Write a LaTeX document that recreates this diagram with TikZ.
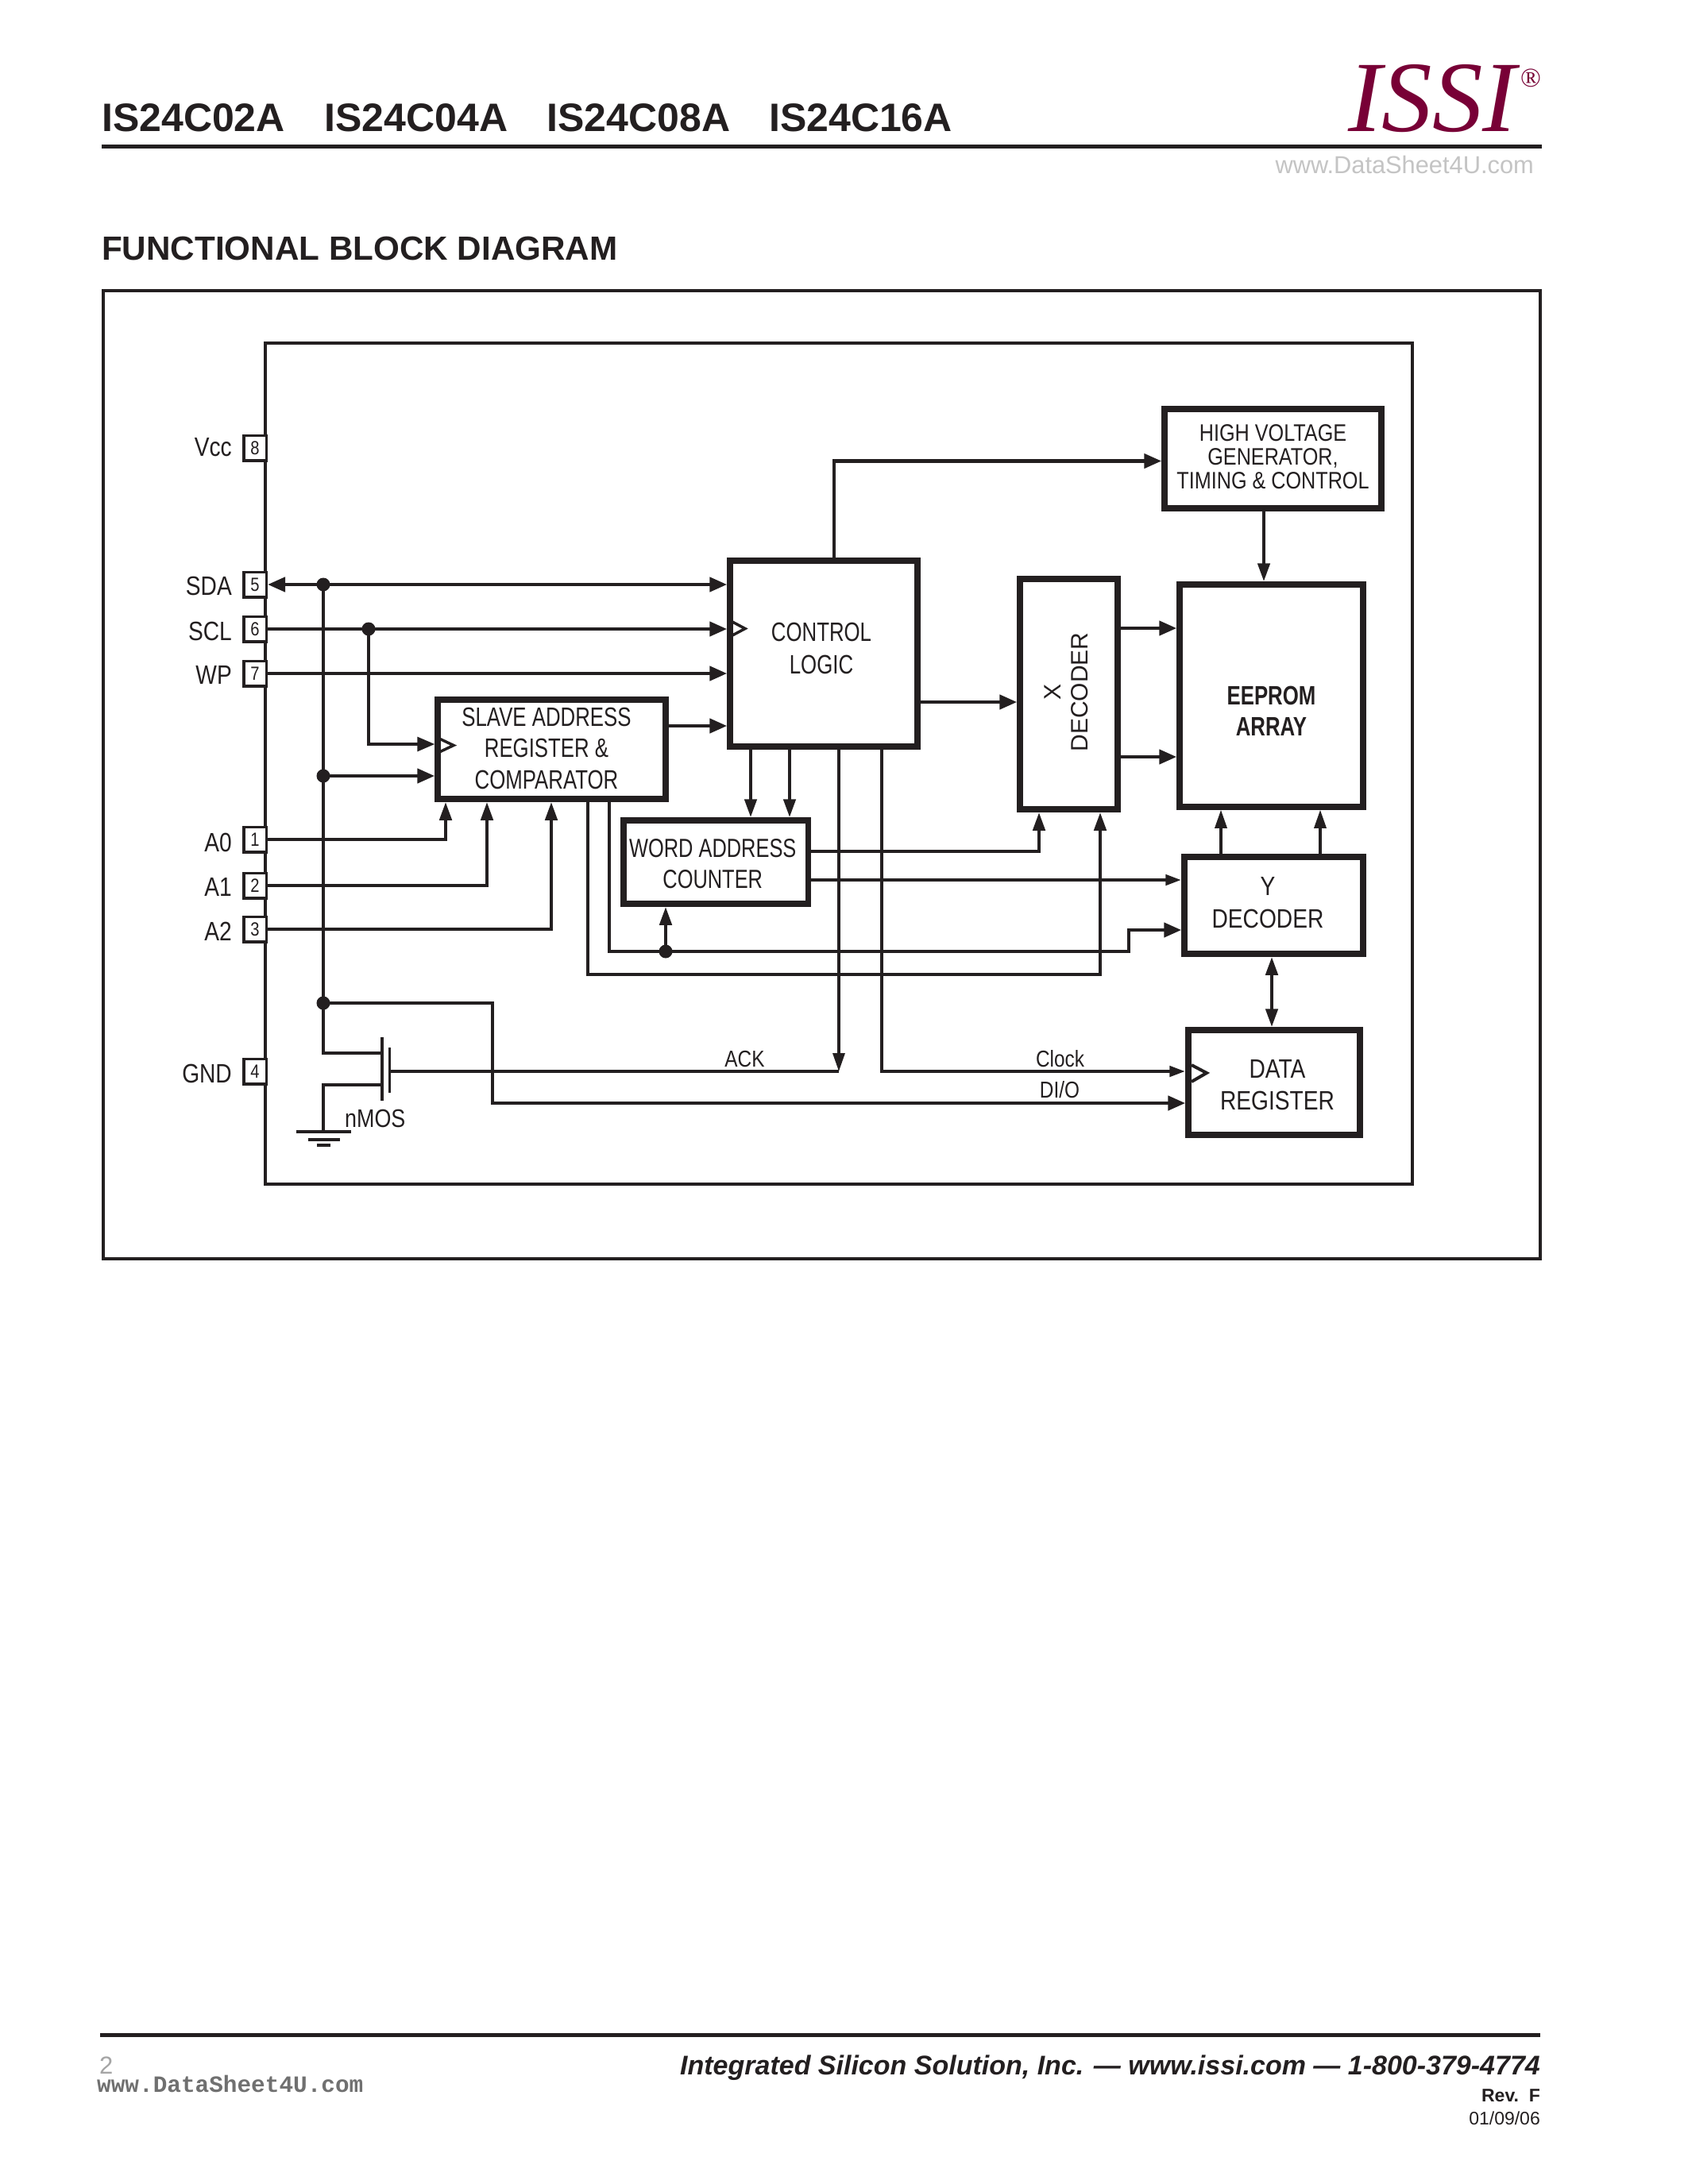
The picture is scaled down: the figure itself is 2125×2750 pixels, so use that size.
\documentclass[tikz,border=0pt]{standalone}
\usepackage{fontspec}
\setmainfont{Liberation Sans}
\newfontfamily\fA[FakeStretch=0.77]{Liberation Sans}
\newfontfamily\fB[FakeStretch=0.84]{Liberation Sans}
\newfontfamily\fS[]{Liberation Serif}
\newfontfamily\fM[]{Liberation Mono}
\usetikzlibrary{arrows.meta,calc}
\definecolor{ink}{HTML}{231F20}
\definecolor{maroon}{HTML}{780036}
\definecolor{wmark}{HTML}{C4C4C4}
\definecolor{wmarkb}{HTML}{707070}
\definecolor{pagenum}{HTML}{A5A5A5}
\newcommand{\fs}[2]{\fontsize{#1}{#2}\selectfont}
\tikzset{
  txt/.style={inner sep=0pt,text=ink},
  blk/.style={draw=ink,line width=7.5pt,inner sep=0pt,align=center,text=ink},
  pinbox/.style={draw=ink,fill=white,line width=3.5pt,inner sep=0pt,minimum width=28.5pt,minimum height=31.5pt,text=ink,font=\fB\fs{24}{28}},
  pinlbl/.style={txt,anchor=base east,font=\fB\fs{33.5}{38}},
  small/.style={txt,anchor=base,font=\fB\fs{29}{33}},
  wire/.style={draw=ink,line width=4.5pt},
  thinwire/.style={draw=ink,line width=3.2pt},
  frameline/.style={draw=ink,line width=4pt},
  dot/.style={circle,fill=ink,inner sep=0pt,minimum size=17pt},
  tipH/.style={-{Triangle[length=22pt,width=18pt]}},
  tipV/.style={-{Triangle[length=23pt,width=15pt]}},
  tipS/.style={-{Triangle[length=20pt,width=13pt]}},
  tipHH/.style={{Triangle[length=22pt,width=18pt]}-{Triangle[length=22pt,width=18pt]}},
  tipVV/.style={{Triangle[length=23pt,width=15pt]}-{Triangle[length=23pt,width=15pt]}},
  clk/.style={draw=ink,line width=3.5pt,fill=none},
}
\begin{document}
\begin{tikzpicture}[x=1pt,y=-1pt]
\useasboundingbox (0,0) rectangle (2125,2750);
\fill[white] (0,0) rectangle (2125,2750);
% header
\node[txt,anchor=base west,font=\bfseries\fs{50}{50}] (h1) at (128,165) {IS24C02A};
\node[txt,anchor=base west,font=\bfseries\fs{50}{50}] (h2) at (408.5,165) {IS24C04A};
\node[txt,anchor=base west,font=\bfseries\fs{50}{50}] (h3) at (688.5,165) {IS24C08A};
\node[txt,anchor=base west,font=\bfseries\fs{50}{50}] (h4) at (968,165) {IS24C16A};
\fill[ink] (128,182) rectangle (1941,187);
\node[inner sep=0pt,anchor=base west,text=maroon,font=\fS\itshape\fs{127}{127}] (logo) at (1697,165) {ISSI};
\node[inner sep=0pt,anchor=base west,text=maroon,font=\fS\fs{34}{34}] (reg) at (1914,109) {®};
\node[inner sep=0pt,anchor=base east,text=wmark,font=\fs{30.8}{32}] (wm1) at (1931,218) {www.DataSheet4U.com};
\node[txt,anchor=base west,font=\bfseries\fs{42.2}{42}] (title) at (128,327) {FUNCTIONAL BLOCK DIAGRAM};
% frames
\draw[frameline] (130,366) rectangle (1939,1585);
\draw[frameline] (334,432) rectangle (1778,1491);
% blocks
\node[blk,minimum width=236pt,minimum height=234pt,font=\fA\fs{33.5}{41},text height=60pt,text depth=10pt] (control) at (1037,823) {\hspace*{-6pt}CONTROL\\\hspace*{-6pt}LOGIC};
\node[blk,minimum width=287pt,minimum height=125pt,font=\fA\fs{33.5}{39.5},text height=109pt,text depth=10pt] (sa) at (694.5,943.5) {\hspace*{-13pt}SLAVE ADDRESS\\\hspace*{-13pt}REGISTER \&\\\hspace*{-13pt}COMPARATOR};
\node[blk,minimum width=232.5pt,minimum height=105pt,font=\fA\fs{33}{39},text height=75pt,text depth=10pt] (wa) at (901.25,1085.5) {\hspace*{-8pt}WORD ADDRESS\\\hspace*{-8pt}COUNTER};
\node[blk,minimum width=273pt,minimum height=125pt,font=\fB\fs{30}{30},text height=85pt,text depth=10pt] (hv) at (1602.5,577.5) {HIGH VOLTAGE\\GENERATOR,\\TIMING \& CONTROL};
\node[blk,minimum width=123pt,minimum height=290pt,font=\fs{30}{34}] (xd) at (1345.5,874) {\raisebox{5pt}{\rotatebox{90}{\begin{tabular}{@{}c@{}}X\\DECODER\end{tabular}}}};
\node[blk,minimum width=231pt,minimum height=280pt,font=\fA\bfseries\fs{33.5}{39},text height=110pt,text depth=10pt] (ee) at (1600.5,876) {EEPROM\\ARRAY};
\node[blk,minimum width=225pt,minimum height=122pt,font=\fB\fs{33.5}{41},text height=66pt,text depth=10pt] (yd) at (1603.5,1140) {\hspace*{-15pt}Y\\\hspace*{-15pt}DECODER};
\node[blk,minimum width=216pt,minimum height=132pt,font=\fB\fs{33.5}{40},text height=78pt,text depth=10pt] (dr) at (1604,1363) {\hspace*{8pt}DATA\\\hspace*{8pt}REGISTER};
% pins
\node[pinbox] (pin8) at (321,564) {8};
\node[pinbox] (pin5) at (321,736) {5};
\node[pinbox] (pin6) at (321,792) {6};
\node[pinbox] (pin7) at (321,848) {7};
\node[pinbox] (pin1) at (321,1057) {1};
\node[pinbox] (pin2) at (321,1115) {2};
\node[pinbox] (pin3) at (321,1170) {3};
\node[pinbox] (pin4) at (321,1349) {4};
\node[pinlbl] (lVcc) at (292,574) {Vcc};
\node[pinlbl] (lSDA) at (292,749) {SDA};
\node[pinlbl] (lSCL) at (292,806) {SCL};
\node[pinlbl] (lWP) at (292,861) {WP};
\node[pinlbl] (lA0) at (292,1072) {A0};
\node[pinlbl] (lA1) at (292,1128) {A1};
\node[pinlbl] (lA2) at (292,1184) {A2};
\node[pinlbl] (lGND) at (292,1363) {GND};
% junctions
\node[dot] (jSDA) at (407,736) {};
\node[dot] (jSCL) at (464,792) {};
\node[dot] (jM) at (407,977) {};
\node[dot] (jN) at (407,1263) {};
\node[dot] (jW) at (838,1198) {};
% helper coordinates
\coordinate (saClk) at (0,937);
\coordinate (xA0) at (561,0);
\coordinate (xA1) at (613,0);
\coordinate (xA2) at (694,0);
\coordinate (rSaCtl) at (0,914);
\coordinate (rCtlX) at (0,884);
\coordinate (rHV) at (1050,580.5);
\coordinate (xWa1) at (945,0);
\coordinate (xWa2) at (994,0);
\coordinate (ackEnd) at (1056,1349);
\coordinate (clkTurn) at (1110,1349);
\coordinate (dioTurn) at (620,1389);
\coordinate (waX) at (1308,1072);
\coordinate (waY) at (0,1108);
\coordinate (busA) at (767,0);
\coordinate (busB) at (740,0);
\coordinate (yStep) at (1421,1198);
\coordinate (yIn) at (0,1171);
\coordinate (xIn) at (1385,1227);
\coordinate (xEe1) at (0,791);
\coordinate (xEe2) at (0,953);
\coordinate (xYe1) at (1537,0);
\coordinate (xYe2) at (1662,0);
\coordinate (xYd) at (1601,0);
\coordinate (xHv) at (1591,0);
% connectors
\draw[wire,tipHH] (pin5.east) -- (control.west |- pin5);
\draw[wire,tipH] (pin6.east) -- (control.west |- pin6);
\draw[wire,tipH] (pin7.east) -- (control.west |- pin7);
\draw[thinwire,tipH] (jSCL.center) |- (sa.west |- saClk);
\draw[thinwire] (jSDA.center) -- (jN.center);
\draw[wire,tipH] (jM.center) -- (sa.west |- jM);
\draw[wire,tipV] (pin1.east) -| (sa.south -| xA0);
\draw[wire,tipV] (pin2.east) -| (sa.south -| xA1);
\draw[wire,tipV] (pin3.east) -| (sa.south -| xA2);
\draw[wire,tipH] (sa.east |- rSaCtl) -- (control.west |- rSaCtl);
\draw[wire,tipH] (control.east |- rCtlX) -- (xd.west |- rCtlX);
\draw[wire,tipH] (control.north -| rHV) -- (rHV) -- (hv.west |- rHV);
\draw[wire,tipV] (control.south -| xWa1) -- (wa.north -| xWa1);
\draw[wire,tipV] (control.south -| xWa2) -- (wa.north -| xWa2);
\draw[thinwire,tipV] (control.south -| ackEnd) -- (ackEnd);
\draw[wire,tipS] (control.south -| clkTurn) -- (clkTurn) -- (dr.west |- clkTurn);
\draw[wire,tipH] (jN.center) -| (dioTurn) -- (dr.west |- dioTurn);
\draw[wire,tipV] (wa.east |- waX) -| (xd.south -| waX);
\draw[wire,tipS] (wa.east |- waY) -- (yd.west |- waY);
\draw[wire,tipH] (sa.south -| busA) |- (yStep) |- (yd.west |- yIn);
\draw[wire,tipV] (sa.south -| busB) |- (xIn) -- (xd.south -| xIn);
\draw[wire,tipV] (jW.center) -- (wa.south -| jW);
\draw[wire,tipH] (xd.east |- xEe1) -- (ee.west |- xEe1);
\draw[wire,tipH] (xd.east |- xEe2) -- (ee.west |- xEe2);
\draw[thinwire,tipV] (yd.north -| xYe1) -- (ee.south -| xYe1);
\draw[thinwire,tipV] (yd.north -| xYe2) -- (ee.south -| xYe2);
\draw[wire,tipVV] (yd.south -| xYd) -- (dr.north -| xYd);
\draw[wire,tipV] (hv.south -| xHv) -- (ee.north -| xHv);
% clock markers
\draw[clk] (922,783) -- (938,791.5) -- (922,800);
\draw[clk] (553,930) -- (571,938.5) -- (553,947);
\draw[clk,line width=4pt] (1500,1341) -- (1519,1351) -- (1500,1362);
% nMOS and ground
\coordinate (nUp) at (481,1326);
\coordinate (nLow) at (481,1366);
\coordinate (nGt) at (481,1306);
\coordinate (nGb) at (481,1386);
\coordinate (nCt) at (490.5,1319);
\coordinate (nCb) at (490.5,1376);
\coordinate (nIn) at (490.5,1349);
\coordinate (gnd) at (407,1425);
\draw[thinwire] (jN.center) |- (nUp);
\draw[wire] (nIn) -- (ackEnd);
\draw[thinwire] (nLow) -| (gnd);
\draw[thinwire] (nGt) -- (nGb);
\draw[thinwire] (nCt) -- (nCb);
\draw[wire] (373,1425) -- (442,1425);
\draw[wire] (388,1435) -- (428,1435);
\draw[wire] (399,1442) -- (416,1442);
\node[txt,anchor=base west,font=\fB\fs{32}{36}] (nmos) at (434,1419) {nMOS};
\node[small] (ack) at (937.5,1343) {ACK};
\node[small] (clock) at (1334.5,1343) {Clock};
\node[small] (dio) at (1334,1382) {DI/O};
% footer
\fill[ink] (126,2560) rectangle (1939,2565);
\node[inner sep=0pt,anchor=base west,text=pagenum,font=\fs{31}{36}] (pg) at (125,2611) {2};
\node[inner sep=0pt,anchor=base west,text=wmarkb,font=\fM\bfseries\fs{29.4}{32}] (wm2) at (122,2634) {www.DataSheet4U.com};
\node[txt,anchor=base east,font=\bfseries\itshape\fs{34}{36}] (f1) at (1939,2612) {Integrated Silicon Solution, Inc. — www.issi.com — 1-800-379-4774};
\node[txt,anchor=base east,font=\bfseries\fs{23}{26}] (f2) at (1939,2646) {Rev.\ \ F};
\node[txt,anchor=base east,font=\fs{23}{26}] (f3) at (1939,2675) {01/09/06};
\end{tikzpicture}
\end{document}
